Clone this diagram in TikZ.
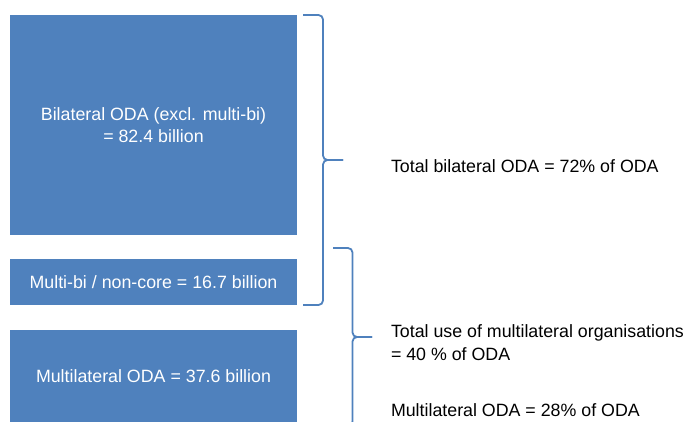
\documentclass[tikz,border=0pt]{standalone}
\usepackage{fontspec}
\setmainfont{Liberation Sans}
\usetikzlibrary{positioning,calc}
\definecolor{odablue}{RGB}{79,129,189}

\begin{document}
\begin{tikzpicture}[
    x=1pt, y=1pt,
    font=\fontsize{17.8}{22.5}\selectfont,
    bar/.style={fill=odablue, draw=none, inner sep=0pt, outer sep=0pt, minimum width=287pt, align=center, text=white},
    note/.style={anchor=base west, inner sep=0pt, outer sep=0pt, align=left},
    brace/.style={draw=odablue, line width=1.8pt, rounded corners=4.5pt}
]

\clip (0,0) rectangle (689,-421);

% Boxes - left column
\node[bar, minimum height=220pt] (bilat) at (153.5,-125) {Bilateral ODA (excl. multi-bi)\\= 82.4 billion};
\node[bar, minimum height=46pt, below=24pt of bilat] (multibi) {Multi-bi / non-core = 16.7 billion};
\node[bar, minimum height=93pt, below=25pt of multibi] (multilat) {Multilateral ODA = 37.6 billion};

% Brace ends and tips
\coordinate (b1top) at ([xshift=6pt]bilat.north east);
\coordinate (b1bot) at ([xshift=6pt]multibi.south east);
\coordinate (tip1) at ($(b1top)!0.5!(b1bot)+(40,0)$);
\coordinate (b2top) at (333,-248);
\coordinate (b2bot) at (333,-426);
\coordinate (tip2) at ($(b2top)!0.5!(b2bot)+(39,0)$);

% Brace 1 - total bilateral
\draw[brace] (b1top) -- ++(20,0) |- (tip1);
\draw[brace] (b1bot) -- ++(20,0) |- (tip1);

% Brace 2 - multilateral use
\draw[brace] (b2top) -- ++(19.5,0) |- (tip2);
\draw[brace] (b2bot) -- ++(19.5,0) |- (tip2);

% Labels - right side
\node[note] (totbilat) at (391,-172) {Total bilateral ODA = 72\% of ODA};
\node[note, anchor=north west] (totuse) at (391,-325) {Total use of multilateral organisations\\= 40 \% of ODA};
\node[note] (multishare) at (391,-416.7) {Multilateral ODA = 28\% of ODA};

\end{tikzpicture}
\end{document}
